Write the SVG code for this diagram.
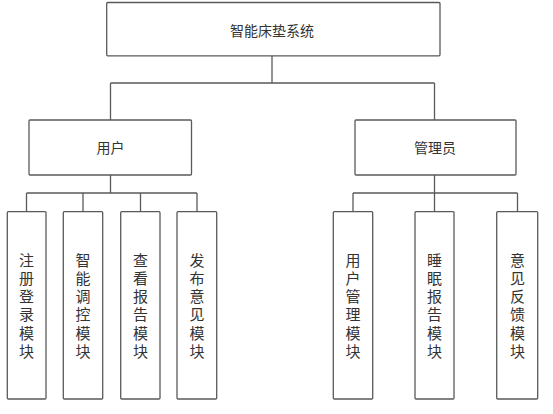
<svg xmlns="http://www.w3.org/2000/svg" width="553" height="414" viewBox="0 0 553 414">
<style>
.box{fill:#fff;stroke:#5a5a5a;stroke-width:1.3}
.ln{fill:none;stroke:#5a5a5a;stroke-width:1.3}
.t{font-family:"Noto Sans CJK SC","Noto Sans",sans-serif;font-size:14px;fill:#333;text-anchor:middle}
.v{font-family:"Noto Sans CJK SC","Noto Sans",sans-serif;font-size:15px;fill:#333;text-anchor:middle}
</style>
<rect width="553" height="414" fill="#fff"/>
<g id="connectors">
<path class="ln" d="M272 56V83M110.5 83H434.5M110.5 83V120M434.5 83V120"/>
<path class="ln" d="M110.5 175V193M26.5 193H197M26.5 193V211.7M83 193V211.7M140.5 193V211.7M197 193V211.7"/>
<path class="ln" d="M434.5 175V193M353 193H517.5M353 193V211.7M434.5 193V211.7M517.5 193V211.7"/>
</g>
<g id="root"><rect class="box" x="106.7" y="2.5" width="333.3" height="53.3" rx="1"/><text class="t" x="272" y="36">智能床垫系统</text></g>
<g id="user"><rect class="box" x="29" y="120" width="162.5" height="55" rx="1"/><text class="t" x="110.5" y="153">用户</text></g>
<g id="admin"><rect class="box" x="355" y="120" width="161" height="55" rx="1"/><text class="t" x="435" y="153">管理员</text></g>
<g id="m1"><rect class="box" x="7.3" y="211.7" width="38.7" height="187.3" rx="1"/><text class="v" y="265.5"><tspan x="26.5">注</tspan><tspan x="26.5" dy="18.3">册</tspan><tspan x="26.5" dy="18.3">登</tspan><tspan x="26.5" dy="18.3">录</tspan><tspan x="26.5" dy="18.3">模</tspan><tspan x="26.5" dy="18.3">块</tspan></text></g>
<g id="m2"><rect class="box" x="63.3" y="211.7" width="39.4" height="187.3" rx="1"/><text class="v" y="265.5"><tspan x="83">智</tspan><tspan x="83" dy="18.3">能</tspan><tspan x="83" dy="18.3">调</tspan><tspan x="83" dy="18.3">控</tspan><tspan x="83" dy="18.3">模</tspan><tspan x="83" dy="18.3">块</tspan></text></g>
<g id="m3"><rect class="box" x="120.7" y="211.7" width="39.3" height="187.3" rx="1"/><text class="v" y="265.5"><tspan x="140.5">查</tspan><tspan x="140.5" dy="18.3">看</tspan><tspan x="140.5" dy="18.3">报</tspan><tspan x="140.5" dy="18.3">告</tspan><tspan x="140.5" dy="18.3">模</tspan><tspan x="140.5" dy="18.3">块</tspan></text></g>
<g id="m4"><rect class="box" x="177" y="211.7" width="39.7" height="187.3" rx="1"/><text class="v" y="265.5"><tspan x="197">发</tspan><tspan x="197" dy="18.3">布</tspan><tspan x="197" dy="18.3">意</tspan><tspan x="197" dy="18.3">见</tspan><tspan x="197" dy="18.3">模</tspan><tspan x="197" dy="18.3">块</tspan></text></g>
<g id="m5"><rect class="box" x="333.3" y="211.7" width="39.4" height="187.3" rx="1"/><text class="v" y="265.5"><tspan x="353">用</tspan><tspan x="353" dy="18.3">户</tspan><tspan x="353" dy="18.3">管</tspan><tspan x="353" dy="18.3">理</tspan><tspan x="353" dy="18.3">模</tspan><tspan x="353" dy="18.3">块</tspan></text></g>
<g id="m6"><rect class="box" x="415" y="211.7" width="39" height="187.3" rx="1"/><text class="v" y="265.5"><tspan x="434.5">睡</tspan><tspan x="434.5" dy="18.3">眠</tspan><tspan x="434.5" dy="18.3">报</tspan><tspan x="434.5" dy="18.3">告</tspan><tspan x="434.5" dy="18.3">模</tspan><tspan x="434.5" dy="18.3">块</tspan></text></g>
<g id="m7"><rect class="box" x="496.7" y="211.7" width="41" height="187.3" rx="1"/><text class="v" y="265.5"><tspan x="517.5">意</tspan><tspan x="517.5" dy="18.3">见</tspan><tspan x="517.5" dy="18.3">反</tspan><tspan x="517.5" dy="18.3">馈</tspan><tspan x="517.5" dy="18.3">模</tspan><tspan x="517.5" dy="18.3">块</tspan></text></g>
</svg>
